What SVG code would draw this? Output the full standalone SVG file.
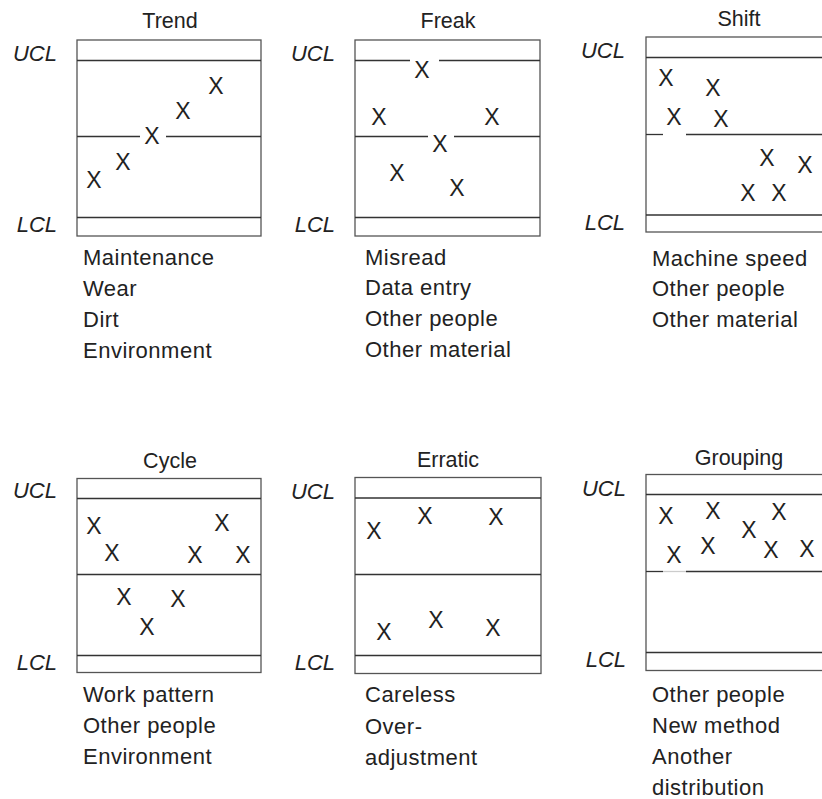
<svg xmlns="http://www.w3.org/2000/svg" width="822" height="799" viewBox="0 0 822 799">
  <style>
    .frame { fill: none; stroke: #555; stroke-width: 1.3; }
    .lim { stroke: #333; stroke-width: 1.3; fill: none; }
    .faint { stroke: #ccc; stroke-width: 1.3; }
    text { font-family: "Liberation Sans", Arial, Helvetica, sans-serif; fill: #222; }
    .title { font-size: 21.5px; text-anchor: middle; }
    .cl { font-size: 22px; font-style: italic; text-anchor: end; }
    .pt { font-size: 23px; text-anchor: middle; }
    .cause { font-size: 22px; letter-spacing: 0.5px; }
  </style>
  <rect width="822" height="799" fill="#fff"/>

  <!-- Trend -->
  <g id="trend">
    <text class="title" x="170" y="28">Trend</text>
    <text class="cl" x="57" y="61">UCL</text>
    <text class="cl" x="57" y="232">LCL</text>
    <rect class="frame" x="77" y="40" width="184" height="196"/>
    <line class="lim" x1="77" y1="60.5" x2="261" y2="60.5"/>
    <line class="lim" x1="77" y1="136.5" x2="140" y2="136.5"/>
    <line class="lim" x1="166" y1="136.5" x2="261" y2="136.5"/>
    <line class="lim" x1="77" y1="217.5" x2="261" y2="217.5"/>
    <text class="pt" x="94" y="188">X</text>
    <text class="pt" x="123" y="170">X</text>
    <text class="pt" x="152" y="144">X</text>
    <text class="pt" x="183" y="119">X</text>
    <text class="pt" x="216" y="94">X</text>
    <text class="cause" x="83" y="265">Maintenance</text>
    <text class="cause" x="83" y="296">Wear</text>
    <text class="cause" x="83" y="327">Dirt</text>
    <text class="cause" x="83" y="358">Environment</text>
  </g>

  <!-- Freak -->
  <g id="freak">
    <text class="title" x="448" y="28">Freak</text>
    <text class="cl" x="335" y="61">UCL</text>
    <text class="cl" x="335" y="232">LCL</text>
    <rect class="frame" x="355" y="40" width="185" height="196"/>
    <line class="lim" x1="355" y1="60.5" x2="410" y2="60.5"/>
    <line class="lim" x1="439" y1="60.5" x2="540" y2="60.5"/>
    <line class="lim" x1="355" y1="136.5" x2="428" y2="136.5"/>
    <line class="lim" x1="454" y1="136.5" x2="540" y2="136.5"/>
    <line class="lim" x1="355" y1="217.5" x2="540" y2="217.5"/>
    <text class="pt" x="422" y="78">X</text>
    <text class="pt" x="379" y="125">X</text>
    <text class="pt" x="492" y="125">X</text>
    <text class="pt" x="440" y="152">X</text>
    <text class="pt" x="397" y="181">X</text>
    <text class="pt" x="457" y="196">X</text>
    <text class="cause" x="365" y="265">Misread</text>
    <text class="cause" x="365" y="295">Data entry</text>
    <text class="cause" x="365" y="326">Other people</text>
    <text class="cause" x="365" y="357">Other material</text>
  </g>

  <!-- Shift -->
  <g id="shift">
    <text class="title" x="739" y="26">Shift</text>
    <text class="cl" x="625" y="58">UCL</text>
    <text class="cl" x="625" y="230">LCL</text>
    <rect class="frame" x="646" y="37" width="190" height="195"/>
    <line class="lim" x1="646" y1="57.5" x2="822" y2="57.5"/>
    <line class="lim" x1="646" y1="134.5" x2="663" y2="134.5"/>
    <line class="lim" x1="686" y1="134.5" x2="822" y2="134.5"/>
    <line class="lim" x1="646" y1="215" x2="822" y2="215"/>
    <text class="pt" x="666" y="86">X</text>
    <text class="pt" x="713" y="96">X</text>
    <text class="pt" x="674" y="125">X</text>
    <text class="pt" x="721" y="127">X</text>
    <text class="pt" x="767" y="166">X</text>
    <text class="pt" x="805" y="173">X</text>
    <text class="pt" x="748" y="201">X</text>
    <text class="pt" x="779" y="201">X</text>
    <text class="cause" x="652" y="266">Machine speed</text>
    <text class="cause" x="652" y="296">Other people</text>
    <text class="cause" x="652" y="327">Other material</text>
  </g>

  <!-- Cycle -->
  <g id="cycle">
    <text class="title" x="170" y="468">Cycle</text>
    <text class="cl" x="57" y="498">UCL</text>
    <text class="cl" x="57" y="670">LCL</text>
    <rect class="frame" x="77" y="478.5" width="184" height="194"/>
    <line class="lim" x1="77" y1="498.5" x2="261" y2="498.5"/>
    <line class="lim" x1="77" y1="574.5" x2="261" y2="574.5"/>
    <line class="lim" x1="77" y1="655.5" x2="261" y2="655.5"/>
    <text class="pt" x="94" y="534">X</text>
    <text class="pt" x="112" y="561">X</text>
    <text class="pt" x="222" y="531">X</text>
    <text class="pt" x="195" y="563">X</text>
    <text class="pt" x="243" y="563">X</text>
    <text class="pt" x="124" y="605">X</text>
    <text class="pt" x="178" y="607">X</text>
    <text class="pt" x="147" y="635">X</text>
    <text class="cause" x="83" y="702">Work pattern</text>
    <text class="cause" x="83" y="733">Other people</text>
    <text class="cause" x="83" y="764">Environment</text>
  </g>

  <!-- Erratic -->
  <g id="erratic">
    <text class="title" x="448" y="467">Erratic</text>
    <text class="cl" x="335" y="499">UCL</text>
    <text class="cl" x="335" y="670">LCL</text>
    <rect class="frame" x="355" y="477.5" width="186" height="196"/>
    <line class="lim" x1="355" y1="498" x2="541" y2="498"/>
    <line class="lim" x1="355" y1="574.5" x2="541" y2="574.5"/>
    <line class="lim" x1="355" y1="655.5" x2="541" y2="655.5"/>
    <text class="pt" x="374" y="539">X</text>
    <text class="pt" x="425" y="524">X</text>
    <text class="pt" x="496" y="525">X</text>
    <text class="pt" x="384" y="640">X</text>
    <text class="pt" x="436" y="628">X</text>
    <text class="pt" x="493" y="636">X</text>
    <text class="cause" x="365" y="702">Careless</text>
    <text class="cause" x="365" y="734">Over-</text>
    <text class="cause" x="365" y="765">adjustment</text>
  </g>

  <!-- Grouping -->
  <g id="grouping">
    <text class="title" x="739" y="465">Grouping</text>
    <text class="cl" x="626" y="496">UCL</text>
    <text class="cl" x="626" y="667">LCL</text>
    <rect class="frame" x="646" y="474.5" width="190" height="196"/>
    <line class="lim" x1="646" y1="494.5" x2="822" y2="494.5"/>
    <line class="lim" x1="646" y1="571.5" x2="663" y2="571.5"/>
    <line class="faint" x1="663" y1="571.5" x2="686" y2="571.5"/>
    <line class="lim" x1="686" y1="571.5" x2="822" y2="571.5"/>
    <line class="lim" x1="646" y1="652.5" x2="822" y2="652.5"/>
    <text class="pt" x="666" y="524">X</text>
    <text class="pt" x="713" y="519">X</text>
    <text class="pt" x="779" y="520">X</text>
    <text class="pt" x="749" y="538">X</text>
    <text class="pt" x="674" y="563">X</text>
    <text class="pt" x="708" y="554">X</text>
    <text class="pt" x="771" y="558">X</text>
    <text class="pt" x="807" y="557">X</text>
    <text class="cause" x="652" y="702">Other people</text>
    <text class="cause" x="652" y="733">New method</text>
    <text class="cause" x="652" y="764">Another</text>
    <text class="cause" x="652" y="795">distribution</text>
  </g>
</svg>
